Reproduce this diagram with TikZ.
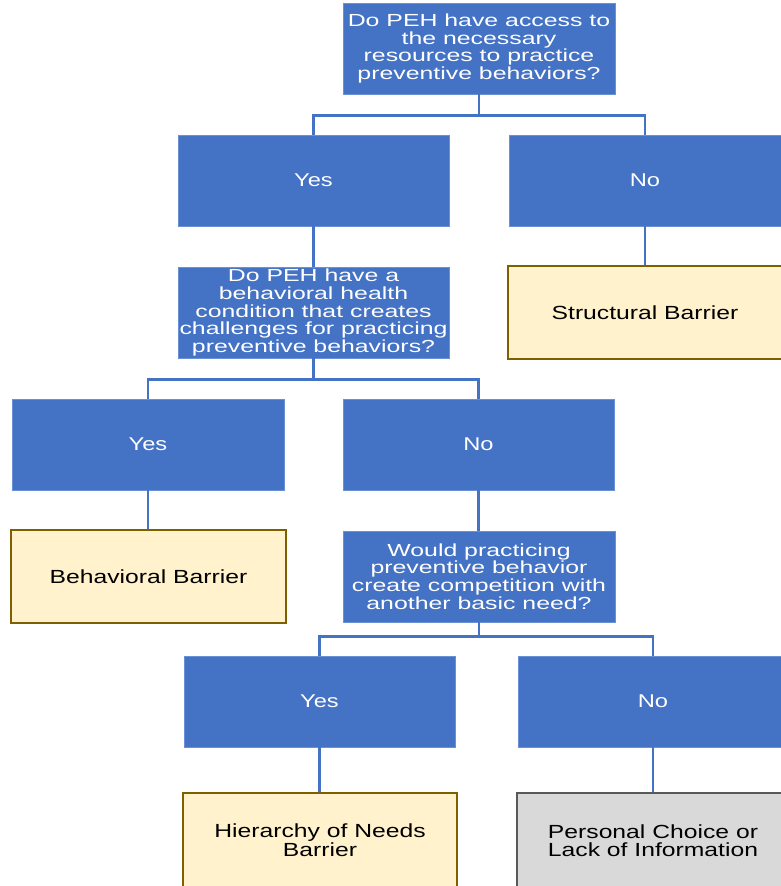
\documentclass[tikz,border=0pt]{standalone}
\usepackage{fontspec}
\setmainfont{Liberation Sans}
\newfontfamily\qfont[FakeStretch=1.42]{Liberation Sans}
\newfontfamily\afont[FakeStretch=1.28]{Liberation Sans}
\newfontfamily\bfont[FakeStretch=1.3]{Liberation Sans}
\definecolor{pblue}{HTML}{4472C4}
\definecolor{pedge}{HTML}{6A90D6}
\definecolor{pbeige}{HTML}{FFF2CC}
\definecolor{pgold}{HTML}{7F6000}
\definecolor{pgray}{HTML}{D9D9D9}
\definecolor{pgedge}{HTML}{595959}
\tikzset{
  basebox/.style={rectangle, inner sep=0pt, align=center, minimum height=91pt},
  qbox/.style={basebox, fill=pblue, draw=pedge, line width=0.8pt, text=white,
    font=\qfont\fontsize{17.5}{17.8}\selectfont},
  abox/.style={basebox, fill=pblue, draw=pedge, line width=0.8pt, text=white,
    font=\afont\fontsize{18.5}{20}\selectfont},
  bbox/.style={basebox, fill=pbeige, draw=pgold, line width=2pt, text=black,
    font=\bfont\fontsize{19}{17.5}\selectfont, minimum height=93pt},
  gbox/.style={bbox, fill=pgray, draw=pgedge},
  link/.style={draw=pblue, line width=2.2pt}
}
\begin{document}
\begin{tikzpicture}[x=1pt,y=-1pt]
\useasboundingbox (0,0) rectangle (780,886);
\fill[white] (0,0) rectangle (780,886);
\node[qbox, minimum width=272pt] (q1) at (479,48.5) {Do PEH have access to\\the necessary\\resources to practice\\preventive behaviors?};
\node[abox, minimum width=271pt] (yes1) at (313.5,180.5) {Yes};
\node[abox, minimum width=272pt] (no1) at (645,180.5) {No};
\node[bbox, minimum width=274pt] (sb) at (645,312.5) {Structural Barrier};
\node[qbox, minimum width=271pt] (q2) at (313.5,312.5) {Do PEH have a\\behavioral health\\condition that creates\\challenges for practicing\\preventive behaviors?};
\node[abox, minimum width=272pt] (yes2) at (148,444.5) {Yes};
\node[abox, minimum width=271pt] (no2) at (478.5,444.5) {No};
\node[bbox, minimum width=275pt] (bb) at (148.5,576.5) {Behavioral Barrier};
\node[qbox, minimum width=272pt] (q3) at (479,576.5) {Would practicing\\preventive behavior\\create competition with\\another basic need?};
\node[abox, minimum width=271pt] (yes3) at (319.5,701.5) {Yes};
\node[abox, minimum width=270pt] (no3) at (653,701.5) {No};
\node[bbox, minimum width=274pt, minimum height=95pt] (hb) at (320,840.5) {Hierarchy of Needs\\Barrier};
\node[gbox, minimum width=272pt, minimum height=95pt] (pc) at (653,840.5) {Personal Choice or\\Lack of Information};
\draw[link] (q1.south) -- ++(0,21) coordinate (j1) -| (yes1.north);
\draw[link] (j1) -| (no1.north);
\draw[link] (yes1.south) -- (yes1.south |- q2.north);
\draw[link] (no1.south) -- (no1.south |- sb.north);
\draw[link] (q2.south) -- ++(0,21) coordinate (j2) -| (yes2.north);
\draw[link] (j2) -| (no2.north);
\draw[link] (yes2.south) -- (yes2.south |- bb.north);
\draw[link] (no2.south) -- (no2.south |- q3.north);
\draw[link] (q3.south) -- ++(0,14) coordinate (j3) -| (yes3.north);
\draw[link] (j3) -| (no3.north);
\draw[link] (yes3.south) -- (yes3.south |- hb.north);
\draw[link] (no3.south) -- (no3.south |- pc.north);
\end{tikzpicture}
\end{document}
